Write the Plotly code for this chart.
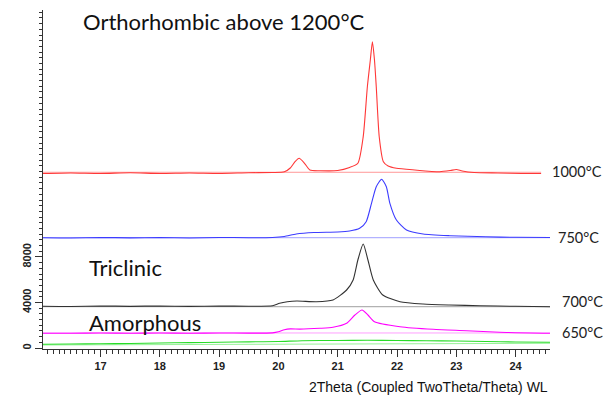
import plotly.graph_objects as go

# ---- data (2Theta in degrees, intensity in counts, stacked offsets as drawn) ----
red_x = [16.03, 16.5, 17.0, 17.5, 18.0, 18.5, 19.0, 19.5, 19.9, 20.1, 20.2, 20.28, 20.35, 20.44, 20.53,
         20.7, 21.0, 21.2, 21.34, 21.43, 21.50, 21.55, 21.585, 21.62, 21.65, 21.70, 21.77, 21.85, 21.99,
         22.3, 22.72, 22.9, 23.0, 23.1, 23.3, 23.7, 24.1, 24.43]
red_y = [15333, 15377, 15333, 15400, 15333, 15377, 15333, 15400, 15421, 15483, 15817, 16370, 16669, 16230, 15641,
         15579, 15597, 15861, 16230, 18567, 22960, 25307, 26915, 25307, 22960, 18567, 16370, 15992, 15790,
         15641, 15492, 15597, 15685, 15553, 15421, 15377, 15333, 15333]

blue_x = [16.03, 16.5, 17.0, 17.5, 18.0, 18.5, 19.0, 19.5, 19.9, 20.1, 20.3, 20.6, 21.0, 21.2, 21.37, 21.48,
          21.57, 21.65, 21.74, 21.82, 21.88, 21.99, 22.16, 22.44, 22.89, 23.5, 24.0, 24.58]
blue_y = [9692, 9670, 9715, 9680, 9700, 9670, 9715, 9692, 9710, 9798, 10017, 10149, 10193, 10281, 10518, 11098,
          12715, 14174, 14824, 14174, 12715, 11247, 10369, 10017, 9868, 9771, 9727, 9710]

black_x = [16.03, 16.5, 17.0, 17.5, 18.0, 18.5, 19.0, 19.5, 19.9, 20.02, 20.15, 20.31, 20.64, 20.92, 21.15,
           21.26, 21.34, 21.43, 21.51, 21.60, 21.76, 22.05, 22.44, 22.89, 23.4, 24.0, 24.6]
black_y = [3665, 3647, 3691, 3660, 3691, 3655, 3691, 3665, 3710, 3928, 4060, 4130, 4068, 4218, 5096,
           5975, 7733, 9138, 7733, 5975, 4657, 4068, 3866, 3778, 3710, 3665, 3630]

magenta_x = [16.03, 16.5, 17.0, 17.5, 18.0, 18.5, 19.0, 19.5, 19.9, 20.0, 20.1, 20.2, 20.36, 20.7, 20.92, 21.15,
             21.29, 21.41, 21.51, 21.62, 22.05, 22.61, 23.17, 23.73, 24.58]
magenta_y = [1292, 1300, 1318, 1292, 1318, 1300, 1318, 1310, 1330, 1420, 1600, 1680, 1660, 1731, 1819, 2170,
             2900, 3339, 2900, 2311, 1872, 1643, 1520, 1380, 1292]

green_x = [16.03, 16.5, 17.0, 17.5, 18.0, 18.5, 19.0, 19.5, 20.0, 20.4, 21.0, 21.5, 22.0, 22.5, 23.0, 23.5, 24.0, 24.58]
green_y = [334, 350, 369, 400, 439, 470, 501, 540, 571, 641, 659, 677, 659, 641, 615, 571, 527, 501]

# background (baseline) lines of each scan
bg_red_x, bg_red_y = [16.03, 24.43], [15440, 15440]
bg_blue_x, bg_blue_y = [16.03, 24.58], [9692, 9692]
bg_black_x, bg_black_y = [16.03, 24.6], [3630, 3630]
bg_magenta_x, bg_magenta_y = [16.03, 24.58], [1320, 1320]
bg_green_x, bg_green_y = [16.03, 24.58], [264, 413]

x_ticks = [17, 18, 19, 20, 21, 22, 23, 24]
y_ticks = [0, 4000, 8000]

temp_labels = ["1000°C", "750°C", "700°C", "650°C"]
temp_label_y = [15492, 9692, 4068, 1344]
temp_label_px = [550.0, 556.0, 560.0, 560.0]

phase_labels = ["Orthorhombic above 1200°C", "Triclinic", "Amorphous"]
phase_label_y = [28690, 7074, 2240]
phase_label_px = [80.7, 87.0, 86.7]

# ---- figure ----
fig = go.Figure()

bg = [
    (bg_red_x, bg_red_y, "rgba(255,140,140,0.9)"),
    (bg_blue_x, bg_blue_y, "rgba(150,150,255,0.9)"),
    (bg_black_x, bg_black_y, "rgba(150,150,150,0.9)"),
    (bg_magenta_x, bg_magenta_y, "rgba(255,150,255,0.9)"),
    (bg_green_x, bg_green_y, "rgba(140,240,140,0.9)"),
]
for bx, by, c in bg:
    fig.add_trace(go.Scatter(x=bx, y=by, mode="lines", line=dict(color=c, width=1),
                             hoverinfo="skip", showlegend=False))

series = [
    (green_x, green_y, "rgb(40,220,40)"),
    (magenta_x, magenta_y, "rgb(255,0,255)"),
    (black_x, black_y, "rgb(50,50,50)"),
    (blue_x, blue_y, "rgb(60,60,255)"),
    (red_x, red_y, "rgb(255,55,55)"),
]
for sx, sy, c in series:
    fig.add_trace(go.Scatter(x=sx, y=sy, mode="lines",
                             line=dict(color=c, width=1.1, shape="spline", smoothing=0.6),
                             showlegend=False))

L, R, T, B = 43, 53, 10, 47
W, H = 603, 396
pw = W - L - R

annotations = []
for txt, yv, px in zip(temp_labels, temp_label_y, temp_label_px):
    annotations.append(dict(text=txt, xref="paper", yref="y", x=(px - L) / pw, y=yv,
                            xanchor="left", yanchor="middle", showarrow=False,
                            font=dict(family="Lato", size=14.5, color="#222")))
for txt, yv, px in zip(phase_labels, phase_label_y, phase_label_px):
    annotations.append(dict(text=txt, xref="paper", yref="y", x=(px - L) / pw, y=yv,
                            xanchor="left", yanchor="middle", showarrow=False,
                            font=dict(family="Lato", size=22, color="#111")))
annotations.append(dict(text="2Theta (Coupled TwoTheta/Theta) WL", xref="paper", yref="paper",
                        x=1.0, y=-0.112, xanchor="right", yanchor="middle", showarrow=False,
                        font=dict(family="Liberation Sans, Arial", size=14, color="#111")))

fig.update_layout(
    width=W, height=H,
    margin=dict(l=L, r=R, t=T, b=B),
    paper_bgcolor="white", plot_bgcolor="white",
    annotations=annotations,
    xaxis=dict(range=[16.03, 24.58], tickvals=x_ticks, ticks="outside", ticklen=7, tickwidth=1,
               tickcolor="#333", showline=True, linecolor="#333", linewidth=1, showgrid=False,
               zeroline=False,
               tickfont=dict(family="Liberation Sans, Arial", size=11, color="#222", weight="bold"),
               minor=dict(dtick=0.1, tick0=16, ticks="outside", ticklen=4, tickcolor="#333",
                          showgrid=False)),
    yaxis=dict(range=[-88, 29700], tickvals=y_ticks, ticks="outside", ticklen=7, tickwidth=1,
               tickcolor="#333", showline=True, linecolor="#333", linewidth=1, showgrid=False,
               zeroline=False, tickangle=-90,
               tickfont=dict(family="Liberation Sans, Arial", size=11, color="#222", weight="bold"),
               minor=dict(dtick=500, tick0=0, ticks="outside", ticklen=3, tickcolor="#333",
                          showgrid=False)),
)

fig.write_html("out.html", config={"displayModeBar": False},
               post_script="document.body.style.margin='0';document.body.style.overflow='hidden';")
